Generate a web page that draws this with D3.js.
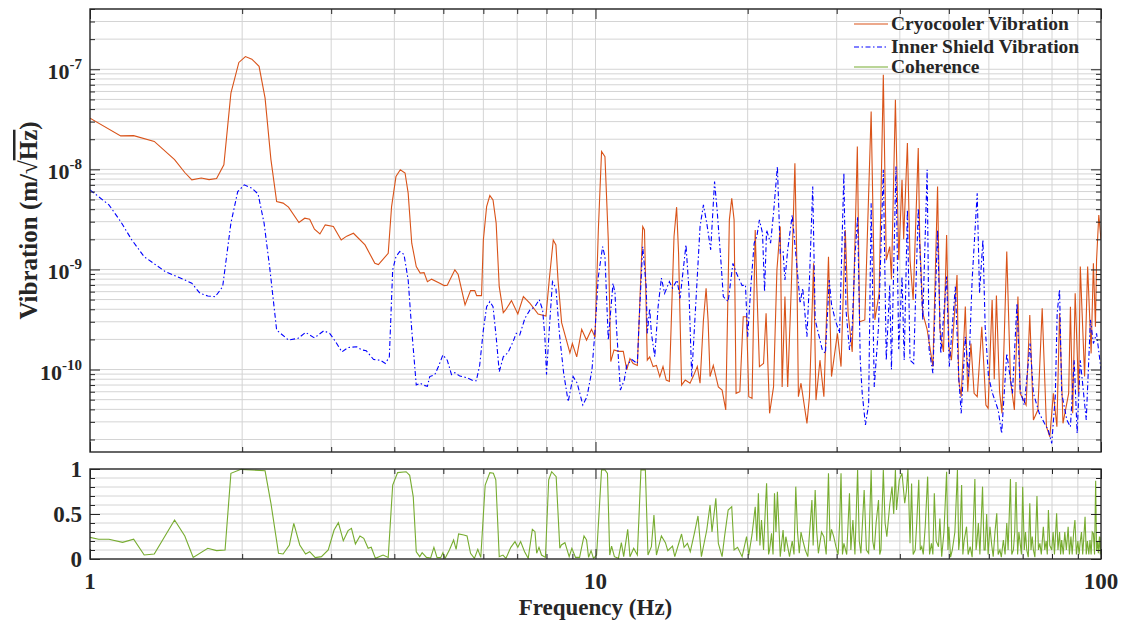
<!doctype html>
<html lang="en">
<head>
    <meta charset="UTF-8">
    <title>Vibration spectra</title>
    <style>
        body { margin: 0; background: #fff; }
        text { font-family: "Liberation Serif", "Times New Roman", serif; font-weight: bold; fill: #262626; }
    </style>
</head>
<body>
<script src="https://cdn.jsdelivr.net/npm/d3@7"></script>
<script>

    // values: [frequency Hz, amplitude m/sqrt(Hz)]
    const cryocooler = [
        [1.00, 3.25e-8], [1.15, 2.16e-8], [1.22, 2.17e-8], [1.34, 1.9e-8], [1.47, 1.25e-8],
        [1.54, 9.3e-9], [1.59, 7.85e-9], [1.66, 8.2e-9], [1.72, 7.9e-9], [1.78, 8.1e-9],
        [1.84, 1.11e-8], [1.90, 5.78e-8], [1.97, 1.17e-7], [2.03, 1.34e-7], [2.09, 1.26e-7],
        [2.16, 1.07e-7], [2.22, 5.15e-8], [2.28, 1.25e-8], [2.34, 4.77e-9], [2.41, 4.6e-9],
        [2.47, 4.19e-9], [2.59, 2.94e-9], [2.66, 3.25e-9], [2.72, 3.18e-9], [2.78, 2.52e-9],
        [2.85, 2.26e-9], [2.92, 2.79e-9], [3.03, 2.69e-9], [3.14, 1.97e-9], [3.22, 2.15e-9],
        [3.32, 2.3e-9], [3.50, 1.76e-9], [3.66, 1.15e-9], [3.72, 1.12e-9], [3.89, 1.45e-9],
        [3.95, 4.25e-9], [4.03, 8.48e-9], [4.11, 9.9e-9], [4.20, 9.2e-9], [4.26, 5.78e-9],
        [4.33, 1.83e-9], [4.42, 1.07e-9], [4.50, 9.2e-10], [4.58, 9.3e-10], [4.65, 7.55e-10],
        [4.74, 8.0e-10], [4.92, 7.28e-10], [5.02, 6.9e-10], [5.09, 6.95e-10], [5.27, 9.9e-10],
        [5.35, 8.9e-10], [5.52, 4.42e-10], [5.66, 6.14e-10], [5.77, 6.14e-10], [5.82, 5.47e-10],
        [5.95, 5.47e-10], [6.00, 1.97e-9], [6.09, 4.25e-9], [6.18, 5.47e-9], [6.27, 4.95e-9],
        [6.36, 2.9e-9], [6.45, 6.73e-10], [6.57, 3.7e-10], [6.64, 3.94e-10], [6.82, 4.88e-10],
        [7.02, 3.59e-10], [7.20, 5.35e-10], [7.42, 4.59e-10], [7.70, 3.59e-10], [7.98, 3.43e-10],
        [8.10, 7.85e-10], [8.25, 1.97e-9], [8.35, 1.76e-9], [8.43, 7.85e-10], [8.57, 2.94e-10],
        [8.90, 1.47e-10], [9.00, 1.82e-10], [9.18, 1.34e-10], [9.39, 2.52e-10], [9.60, 1.97e-10],
        [9.82, 2.52e-10], [9.98, 2.1e-10], [10.13, 2.48e-9], [10.28, 1.51e-8], [10.44, 1.34e-8],
        [10.60, 1.97e-9], [10.72, 1.2e-10], [10.88, 1.57e-10], [11.10, 1.52e-10], [11.35, 1.52e-10],
        [11.53, 9.9e-11], [11.70, 1.29e-10], [11.87, 1.15e-10], [12.10, 1.1e-10], [12.20, 3.13e-10],
        [12.40, 2.68e-9], [12.50, 2.48e-9], [12.66, 1.24e-10], [12.80, 1.34e-10], [13.00, 1.07e-10],
        [13.20, 1.1e-10], [13.40, 8.5e-11], [13.60, 1.07e-10], [13.80, 7.85e-11], [14.00, 7.6e-11],
        [14.30, 2.13e-9], [14.47, 4.19e-9], [14.60, 1.45e-9], [14.80, 7.0e-11], [15.05, 7.85e-11],
        [15.38, 7.3e-11], [15.60, 8.5e-11], [15.90, 1.07e-10], [16.10, 7.3e-11], [16.35, 3.13e-10],
        [16.55, 6.49e-10], [16.70, 3.13e-10], [16.85, 8.5e-11], [17.10, 1.1e-10], [17.50, 6.7e-11],
        [17.80, 6.24e-11], [18.10, 3.94e-11], [18.40, 3.13e-9], [18.60, 5.15e-9], [18.80, 3.13e-9],
        [18.97, 5.78e-11], [19.30, 6.0e-11], [19.60, 3.37e-10], [19.90, 3.37e-10], [20.10, 5.35e-11],
        [20.40, 5.15e-11], [20.70, 2.48e-9], [20.85, 6.73e-10], [21.10, 1.07e-10], [21.50, 1.15e-10],
        [21.75, 3.65e-10], [22.10, 3.65e-11], [22.50, 6.7e-11], [22.85, 9.9e-10], [23.20, 2.68e-9],
        [23.40, 6.7e-11], [23.70, 5.35e-10], [24.00, 6.7e-11], [24.40, 6.73e-10], [24.80, 1.15e-8],
        [25.00, 1.45e-9], [25.20, 5.35e-11], [25.50, 7.3e-11], [26.20, 2.9e-11], [26.50, 5.35e-11],
        [27.00, 1.15e-9], [27.30, 4.95e-11], [27.80, 1.24e-10], [28.30, 5.35e-11], [28.90, 1.34e-9],
        [29.30, 8.5e-11], [30.10, 2.3e-10], [30.60, 1.07e-10], [31.20, 2.48e-9], [31.60, 3.65e-10],
        [32.20, 1.5e-10], [32.96, 1.69e-8], [33.30, 3.0e-10], [34.10, 3.13e-10], [35.10, 3.79e-8],
        [35.70, 3.13e-10], [36.40, 5.78e-10], [37.10, 8.8e-8], [37.60, 1.24e-9], [38.20, 1.69e-9],
        [38.50, 8.0e-10], [39.20, 4.95e-8], [39.80, 1.24e-9], [40.40, 7.85e-9], [40.70, 2.0e-9],
        [41.40, 1.83e-8], [41.90, 1.24e-9], [42.50, 4.95e-10], [43.50, 1.63e-8], [43.80, 1.97e-9],
        [44.40, 3.65e-10], [45.30, 2.5e-10], [46.50, 1.07e-10], [47.50, 6.73e-9], [48.00, 2.5e-10],
        [48.80, 1.5e-10], [49.50, 2.21e-9], [50.00, 1.7e-10], [50.60, 1.24e-10], [51.90, 8.8e-10],
        [52.30, 7.85e-11], [52.90, 5.35e-11], [53.90, 4.25e-10], [54.50, 6.0e-11], [55.30, 1.82e-10],
        [56.10, 5.78e-11], [56.90, 5.35e-11], [58.10, 2.68e-10], [59.20, 4.42e-11], [59.80, 4.1e-11],
        [60.90, 4.95e-10], [61.50, 8.0e-11], [62.10, 5.5e-10], [63.00, 6.0e-11], [63.70, 3.65e-11],
        [65.10, 1.51e-9], [66.20, 7.85e-11], [67.40, 3.94e-11], [68.50, 5.35e-10], [69.20, 5.78e-11],
        [71.10, 4.42e-11], [72.30, 3.5e-10], [73.50, 3.13e-11], [75.00, 3.94e-11], [76.50, 4.1e-10],
        [78.00, 2.68e-11], [79.20, 2.13e-11], [80.50, 5.78e-11], [81.80, 2.68e-11], [82.80, 3.65e-10],
        [84.10, 2.9e-11], [86.30, 5.78e-11], [87.00, 4.25e-10], [87.90, 3.65e-11], [88.90, 5.78e-10],
        [90.30, 5.78e-11], [91.00, 1.07e-9], [92.80, 8.5e-11], [94.10, 1.07e-9], [95.60, 1.45e-10],
        [96.60, 1.15e-9], [97.50, 2.68e-10], [98.00, 1.24e-9], [99.00, 3.5e-9], [100.0, 1.97e-9]
    ]

    const innerShield = [
        [1.00, 6.24e-9], [1.09, 4.42e-9], [1.15, 3.01e-9], [1.21, 1.97e-9], [1.28, 1.34e-9],
        [1.41, 9.5e-10], [1.53, 7.98e-10], [1.59, 7.28e-10], [1.65, 5.78e-10], [1.71, 5.43e-10],
        [1.77, 5.35e-10], [1.83, 6.73e-10], [1.90, 2.9e-9], [1.96, 6.0e-9], [2.02, 7.0e-9],
        [2.09, 6.49e-9], [2.15, 5.69e-9], [2.21, 2.9e-9], [2.27, 9.9e-10], [2.34, 2.48e-10],
        [2.47, 1.97e-10], [2.58, 2.05e-10], [2.67, 2.35e-10], [2.78, 2.07e-10], [2.90, 2.44e-10],
        [2.98, 2.3e-10], [3.06, 1.9e-10], [3.15, 1.5e-10], [3.24, 1.66e-10], [3.37, 1.69e-10],
        [3.45, 1.57e-10], [3.52, 1.54e-10], [3.64, 1.26e-10], [3.75, 1.24e-10], [3.84, 1.15e-10],
        [3.91, 1.34e-10], [3.97, 9.9e-10], [4.03, 1.34e-9], [4.10, 1.51e-9], [4.18, 1.41e-9],
        [4.26, 7.85e-10], [4.33, 2.48e-10], [4.42, 7.0e-11], [4.50, 7.3e-11], [4.56, 7.0e-11],
        [4.65, 6.8e-11], [4.70, 8.5e-11], [4.81, 8.9e-11], [4.89, 1.07e-10], [4.99, 1.4e-10],
        [5.09, 1.24e-10], [5.19, 8.9e-11], [5.27, 9.3e-11], [5.39, 8.6e-11], [5.56, 8.3e-11],
        [5.73, 7.73e-11], [5.81, 7.73e-11], [5.90, 1.1e-10], [6.00, 2.48e-10], [6.09, 4.25e-10],
        [6.18, 4.77e-10], [6.27, 4.25e-10], [6.36, 2.13e-10], [6.45, 9.5e-11], [6.57, 1.34e-10],
        [6.71, 1.47e-10], [6.87, 1.9e-10], [6.97, 2.3e-10], [7.08, 2.21e-10], [7.25, 3.25e-10],
        [7.42, 3.94e-10], [7.59, 4.25e-10], [7.74, 4.99e-10], [7.86, 3.94e-10], [7.94, 2.13e-10],
        [8.00, 8.9e-11], [8.10, 2.48e-10], [8.22, 7.55e-10], [8.35, 6.49e-10], [8.49, 2.21e-10],
        [8.65, 9.2e-11], [8.83, 4.77e-11], [9.03, 8.5e-11], [9.20, 7.3e-11], [9.44, 4.42e-11],
        [9.62, 5.35e-11], [9.84, 9.9e-11], [9.98, 2.48e-10], [10.13, 8.5e-10], [10.33, 1.69e-9],
        [10.44, 1.34e-9], [10.60, 1.97e-10], [10.83, 7.28e-10], [10.93, 5.78e-10], [11.00, 2.68e-10],
        [11.20, 6.24e-11], [11.40, 7.85e-11], [11.53, 1.1e-10], [11.80, 1.26e-10], [12.10, 1.15e-10],
        [12.20, 3.13e-10], [12.40, 1.69e-9], [12.60, 6.73e-10], [12.66, 2.3e-10], [12.80, 4.1e-10],
        [12.90, 2.3e-10], [13.10, 1.34e-10], [13.30, 4.25e-10], [13.50, 8.2e-10], [13.70, 5.78e-10],
        [14.00, 7.55e-10], [14.20, 6.5e-10], [14.50, 7.85e-10], [14.70, 5.15e-10], [15.10, 1.76e-9],
        [15.30, 6.5e-10], [15.50, 8.5e-11], [15.90, 8.5e-10], [16.10, 2.68e-9], [16.35, 4.42e-9],
        [16.60, 2.9e-9], [16.90, 1.57e-9], [17.20, 7.55e-9], [17.40, 3.94e-9], [17.70, 1.24e-9],
        [17.90, 5.35e-10], [18.30, 4.77e-10], [18.70, 1.15e-9], [19.00, 9.2e-10], [19.50, 6.9e-10],
        [19.80, 7.0e-10], [20.00, 2.13e-10], [20.30, 7.0e-10], [20.60, 1.83e-9], [20.85, 2.13e-9],
        [21.10, 3.13e-9], [21.40, 2.3e-9], [21.60, 6.02e-10], [21.80, 2.48e-9], [22.20, 1.83e-9],
        [22.50, 3.65e-9], [22.90, 1.07e-8], [23.20, 1.45e-9], [23.50, 1.5e-9], [23.70, 7.85e-10],
        [24.00, 1.57e-9], [24.50, 3.5e-9], [25.00, 1.15e-9], [25.40, 4.59e-10], [25.70, 6.5e-10],
        [26.20, 2.13e-10], [26.50, 7.85e-10], [26.90, 6.73e-9], [27.20, 3.13e-10], [27.60, 2.3e-10],
        [28.10, 1.57e-10], [28.50, 1.45e-10], [29.00, 7.85e-10], [29.30, 4.5e-10], [29.80, 3.13e-10],
        [30.40, 2.3e-10], [31.00, 9.2e-9], [31.30, 3.94e-10], [31.80, 1.57e-10], [32.20, 2.68e-10],
        [32.60, 1.34e-9], [33.00, 3.37e-9], [33.40, 1.24e-10], [33.70, 5.78e-11], [34.20, 2.79e-11],
        [34.70, 4.5e-11], [35.10, 4.59e-9], [35.60, 6.7e-11], [36.30, 2.68e-10], [37.10, 9.9e-9],
        [37.60, 1.24e-10], [38.20, 6.9e-10], [38.50, 1.0e-10], [39.30, 1.07e-8], [39.80, 1.6e-10],
        [40.40, 8.5e-10], [40.80, 1.24e-10], [41.40, 3.94e-9], [41.90, 1.24e-10], [42.60, 1.15e-10],
        [43.50, 4.1e-9], [44.40, 3.13e-10], [45.30, 9.9e-9], [45.70, 1.6e-10], [46.50, 9.2e-11],
        [47.50, 2.48e-9], [48.20, 1.45e-10], [49.50, 8.5e-10], [50.10, 1.07e-10], [51.50, 6.73e-10],
        [52.30, 8.5e-11], [52.90, 3.65e-11], [53.90, 2.13e-10], [54.70, 8.5e-11], [55.60, 7.85e-10],
        [56.90, 5.78e-9], [57.50, 5.78e-10], [58.40, 1.97e-9], [59.00, 2.68e-10], [59.90, 8.5e-11],
        [61.00, 5.78e-11], [62.60, 3.94e-11], [63.60, 2.3e-11], [65.10, 1.45e-10], [66.80, 5.78e-11],
        [68.20, 4.59e-10], [69.20, 6.24e-11], [70.50, 4.42e-11], [72.40, 1.82e-10], [73.50, 5.78e-11],
        [75.50, 3.65e-11], [77.30, 2.9e-11], [78.60, 2.5e-11], [79.90, 1.83e-11], [81.20, 5.35e-11],
        [81.90, 3.65e-10], [82.80, 6.3e-10], [83.60, 5.78e-11], [85.60, 3.13e-11], [87.00, 2.68e-11],
        [88.50, 1.24e-10], [89.70, 2.3e-11], [91.00, 1.24e-10], [93.50, 3.13e-11], [95.30, 3.13e-10],
        [96.60, 1.82e-10], [98.00, 2.3e-10], [100.0, 1.0e-10]
    ]

    // [frequency Hz, coherence]
    const coherence = [
        [1.00, 0.24], [1.04, 0.22], [1.09, 0.22], [1.16, 0.185], [1.22, 0.22], [1.28, 0.044],
        [1.34, 0.056], [1.47, 0.433], [1.54, 0.256], [1.60, 0.018], [1.71, 0.119], [1.78, 0.093],
        [1.85, 0.1], [1.90, 0.952], [1.99, 0.996], [2.22, 0.98], [2.28, 0.619], [2.36, 0.063],
        [2.41, 0.056], [2.48, 0.156], [2.53, 0.396], [2.60, 0.156], [2.67, 0.056], [2.72, 0.081],
        [2.79, 0.015], [2.87, 0.026], [2.96, 0.1], [3.04, 0.322], [3.10, 0.404], [3.17, 0.204],
        [3.24, 0.315], [3.29, 0.34], [3.35, 0.167], [3.42, 0.256], [3.48, 0.23], [3.55, 0.119],
        [3.60, 0.13], [3.67, 0.007], [3.80, 0.044], [3.89, 0.018], [3.97, 0.822], [4.06, 0.96],
        [4.22, 0.97], [4.29, 0.93], [4.36, 0.69], [4.42, 0.081], [4.49, 0.026], [4.54, 0.07],
        [4.63, 0.018], [4.72, 0.011], [4.79, 0.13], [4.86, 0.015], [4.94, 0.015], [4.99, 0.07],
        [5.04, 0.007], [5.14, 0.1], [5.24, 0.211], [5.30, 0.107], [5.36, 0.278], [5.49, 0.267],
        [5.57, 0.256], [5.66, 0.063], [5.76, 0.007], [5.85, 0.107], [5.93, 0.018], [6.05, 0.822],
        [6.18, 0.96], [6.28, 0.952], [6.35, 0.88], [6.45, 0.026], [6.56, 0.044], [6.65, 0.007],
        [6.80, 0.13], [6.93, 0.193], [7.02, 0.13], [7.11, 0.193], [7.24, 0.081], [7.36, 0.007],
        [7.50, 0.33], [7.59, 0.304], [7.65, 0.063], [7.73, 0.13], [7.82, 0.044], [7.96, 0.018],
        [8.08, 0.88], [8.19, 0.97], [8.36, 0.915], [8.50, 0.119], [8.56, 0.156], [8.70, 0.181],
        [8.87, 0.026], [8.98, 0.119], [9.13, 0.018], [9.30, 0.018], [9.49, 0.256], [9.60, 0.211],
        [9.69, 0.018], [9.80, 0.093], [9.91, 0.007], [10.05, 0.044], [10.28, 0.99], [10.44, 0.99],
        [10.56, 0.952], [10.67, 0.044], [10.76, 0.144], [10.90, 0.026], [11.10, 0.007], [11.25, 0.181],
        [11.37, 0.026], [11.58, 0.33], [11.70, 0.026], [11.90, 0.119], [12.10, 0.044], [12.30, 0.99],
        [12.55, 0.99], [12.70, 0.044], [12.90, 0.137], [13.05, 0.489], [13.20, 0.044], [13.50, 0.256],
        [13.75, 0.181], [13.90, 0.093], [14.20, 0.144], [14.35, 0.026], [14.80, 0.278], [14.97, 0.13],
        [15.20, 0.174], [15.40, 0.081], [15.70, 0.293], [15.95, 0.478], [16.20, 0.026], [16.60, 0.322],
        [16.85, 0.6], [17.00, 0.3], [17.30, 0.674], [17.50, 0.174], [17.80, 0.026], [18.00, 0.248],
        [18.30, 0.544], [18.60, 0.581], [18.80, 0.1], [19.10, 0.13], [19.50, 0.026], [19.90, 0.248],
        [20.10, 0.044], [20.40, 0.27], [20.70, 0.581], [20.85, 0.2], [21.00, 0.73], [21.15, 0.15],
        [21.30, 0.433], [21.50, 0.1], [21.70, 0.619], [21.80, 0.841], [22.00, 0.05], [22.10, 0.1],
        [22.30, 0.285], [22.45, 0.05], [22.60, 0.73], [22.75, 0.3], [22.90, 0.748], [23.20, 0.026],
        [23.50, 0.322], [23.65, 0.08], [23.80, 0.248], [24.20, 0.026], [24.50, 0.2], [24.70, 0.05],
        [24.90, 0.804], [25.10, 0.3], [25.30, 0.063], [25.50, 0.3], [25.70, 0.211], [26.00, 0.1],
        [26.30, 0.026], [26.60, 0.4], [26.80, 0.656], [26.95, 0.15], [27.20, 0.767], [27.40, 0.3],
        [27.60, 0.063], [28.00, 0.3], [28.30, 0.248], [28.60, 0.05], [28.90, 0.952], [29.10, 0.2],
        [29.30, 0.33], [29.60, 0.248], [29.90, 0.137], [30.20, 0.05], [30.40, 0.393], [30.60, 0.952],
        [30.80, 0.05], [31.00, 0.174], [31.40, 0.05], [31.80, 0.73], [32.00, 0.1], [32.30, 0.433],
        [32.60, 0.05], [33.00, 0.99], [33.25, 0.2], [33.50, 0.063], [34.00, 0.767], [34.35, 0.1],
        [34.70, 0.063], [35.10, 0.99], [35.35, 0.2], [35.60, 0.1], [35.90, 0.4], [36.30, 0.656],
        [36.50, 0.05], [36.70, 0.1], [37.10, 0.99], [37.40, 0.4], [37.70, 0.248], [38.20, 0.6],
        [38.60, 0.804], [38.90, 0.5], [39.20, 0.99], [39.40, 0.544], [39.90, 0.88], [40.40, 0.952],
        [40.90, 0.619], [41.20, 0.75], [41.50, 1.0], [41.90, 0.174], [42.20, 0.84], [42.50, 0.05],
        [42.90, 0.1], [43.20, 0.4], [43.60, 0.88], [43.90, 0.1], [44.20, 0.137], [44.50, 0.05],
        [44.90, 0.359], [45.40, 0.915], [45.80, 0.05], [46.20, 0.174], [46.50, 0.05], [46.80, 0.73],
        [47.20, 0.2], [47.70, 0.137], [48.00, 0.45], [48.40, 0.026], [48.90, 0.3], [49.50, 0.97],
        [49.80, 0.1], [50.00, 0.359], [50.40, 0.02], [50.80, 0.1], [51.40, 0.3], [52.00, 0.99],
        [52.30, 0.1], [52.60, 0.248], [53.00, 0.822], [53.30, 0.05], [53.60, 0.2], [54.20, 0.359],
        [54.60, 0.05], [55.10, 0.137], [55.60, 0.02], [56.30, 0.89], [56.60, 0.1], [56.80, 0.174],
        [57.20, 0.4], [57.60, 0.05], [58.30, 0.804], [58.70, 0.1], [59.00, 0.1], [59.40, 0.5],
        [59.80, 0.05], [60.30, 0.359], [60.80, 0.15], [61.20, 0.026], [61.70, 0.3], [62.20, 0.507],
        [62.60, 0.05], [63.10, 0.1], [63.50, 0.02], [64.10, 0.211], [64.60, 0.05], [65.10, 0.4],
        [65.50, 0.1], [66.20, 0.89], [66.60, 0.05], [67.10, 0.1], [67.50, 0.3], [67.90, 0.855],
        [68.40, 0.05], [68.80, 0.3], [69.20, 0.174], [69.60, 0.05], [70.00, 0.804], [70.50, 0.1],
        [70.90, 0.3], [71.30, 0.1], [71.80, 0.02], [72.30, 0.62], [72.70, 0.1], [73.10, 0.25],
        [73.50, 0.1], [74.00, 0.02], [74.70, 0.7], [75.20, 0.1], [75.70, 0.174], [76.20, 0.05],
        [76.90, 0.359], [77.40, 0.1], [77.90, 0.2], [78.30, 0.05], [78.70, 0.544], [79.20, 0.15],
        [79.90, 0.1], [80.40, 0.3], [80.90, 0.05], [81.70, 0.507], [82.20, 0.1], [82.80, 0.3],
        [83.20, 0.05], [83.60, 0.211], [84.20, 0.05], [84.80, 0.3], [85.40, 0.1], [86.10, 0.359],
        [86.60, 0.05], [87.20, 0.25], [87.70, 0.05], [88.30, 0.3], [88.80, 0.433], [89.40, 0.05],
        [90.00, 0.2], [90.50, 0.05], [90.90, 0.174], [91.50, 0.3], [92.00, 0.05], [92.50, 0.25],
        [93.00, 0.47], [93.50, 0.05], [94.00, 0.2], [94.60, 0.05], [95.10, 0.211], [95.60, 0.05],
        [96.10, 0.3], [96.60, 0.285], [97.10, 0.05], [97.60, 0.87], [98.00, 0.1], [98.40, 0.2],
        [98.80, 0.063], [99.30, 0.25], [99.70, 0.05], [100.0, 0.248]
    ]

    const xLabels = [1, 10, 100]
    const yTopLabels = [-10, -9, -8, -7]      // exponents of the decade labels
    const yBotLabels = ['0', '0.5', '1']
    const legendNames = ['Cryocooler Vibration', 'Inner Shield Vibration', 'Coherence']

    const colors = {cryo: '#D95319', shield: '#0000FF', coh: '#77AC30'}
    const axisColor = '#262626'
    const gridColor = '#d4d4d4'
    const dashDot = '5,2.5,1.5,2.5'

    const W = 1125, H = 620
    const left = 90, right = 1101
    const top1 = 9, bottom1 = 452
    const top2 = 469, bottom2 = 559

    const svg = d3.select('body')
        .append('svg')
        .attr('width', W)
        .attr('height', H)

    const x = d3.scaleLog().domain([1, 100]).range([left, right])
    const yTop = d3.scaleLog().domain([1.5e-11, 4e-7]).range([bottom1, top1])
    const yBot = d3.scaleLinear().domain([0, 1]).range([bottom2, top2])

    // tick positions
    const xMinor = d3.range(2, 10).concat(d3.range(20, 100, 10))
    const yTopMajor = yTopLabels.map(e => Math.pow(10, e))
    const yTopMinor = []
    for (let e = -11; e <= -7; e++) {
        for (let m = 2; m <= 9; m++) {
            const v = m * Math.pow(10, e)
            if (v >= 1.5e-11 && v <= 4e-7) yTopMinor.push(v)
        }
    }
    const yBotMinor = d3.range(1, 10).filter(d => d !== 5).map(d => d / 10)
    const yBotMajor = yBotLabels.map(Number)

    // grid lines
    function grid(g, yScale, yVals, y0, y1) {
        g.selectAll('.gx').data(xMinor.concat([10]))
            .enter().append('line')
            .attr('x1', d => x(d)).attr('x2', d => x(d))
            .attr('y1', y0).attr('y2', y1)
            .attr('stroke', gridColor).attr('stroke-width', 1)
        g.selectAll('.gy').data(yVals)
            .enter().append('line')
            .attr('x1', left).attr('x2', right)
            .attr('y1', d => yScale(d)).attr('y2', d => yScale(d))
            .attr('stroke', gridColor).attr('stroke-width', 1)
    }

    const g1 = svg.append('g')
    const g2 = svg.append('g')
    grid(g1, yTop, yTopMajor.concat(yTopMinor), top1, bottom1)
    grid(g2, yBot, yBotMinor.concat([0.5]), top2, bottom2)

    // clip paths
    svg.append('clipPath').attr('id', 'clip1').append('rect')
        .attr('x', left).attr('y', top1).attr('width', right - left).attr('height', bottom1 - top1)
    svg.append('clipPath').attr('id', 'clip2').append('rect')
        .attr('x', left).attr('y', top2 - 1).attr('width', right - left).attr('height', bottom2 - top2 + 1)

    // data lines
    const lineTop = d3.line().x(d => x(d[0])).y(d => yTop(d[1]))
    const lineBot = d3.line().x(d => x(d[0])).y(d => yBot(d[1]))

    g1.append('path')
        .attr('clip-path', 'url(#clip1)')
        .attr('d', lineTop(cryocooler))
        .attr('fill', 'none')
        .attr('stroke', colors.cryo)
        .attr('stroke-width', 1.1)

    g1.append('path')
        .attr('clip-path', 'url(#clip1)')
        .attr('d', lineTop(innerShield))
        .attr('fill', 'none')
        .attr('stroke', colors.shield)
        .attr('stroke-width', 1.1)
        .attr('stroke-dasharray', dashDot)

    g2.append('path')
        .attr('clip-path', 'url(#clip2)')
        .attr('d', lineBot(coherence))
        .attr('fill', 'none')
        .attr('stroke', colors.coh)
        .attr('stroke-width', 1.1)

    // ticks pointing inward on all four sides
    function ticks(g, yScale, yMaj, yMin, y0, y1) {
        const parts = [
            [d3.axisBottom(x), `translate(0,${y1})`, xLabels, xMinor],
            [d3.axisTop(x), `translate(0,${y0})`, xLabels, xMinor],
            [d3.axisLeft(yScale), `translate(${left},0)`, yMaj, yMin],
            [d3.axisRight(yScale), `translate(${right},0)`, yMaj, yMin]
        ]
        parts.forEach(([ax, tr, maj, min]) => {
            g.append('g').attr('transform', tr)
                .call(ax.tickValues(maj).tickSize(-10).tickFormat(''))
                .call(s => s.select('.domain').remove())
                .selectAll('line').attr('stroke', axisColor)
            g.append('g').attr('transform', tr)
                .call(ax.tickValues(min).tickSize(-5).tickFormat(''))
                .call(s => s.select('.domain').remove())
                .selectAll('line').attr('stroke', axisColor)
        })
        g.append('rect')
            .attr('x', left).attr('y', y0)
            .attr('width', right - left).attr('height', y1 - y0)
            .attr('fill', 'none')
            .attr('stroke', axisColor)
            .attr('stroke-width', 1.4)
    }

    ticks(g1, yTop, yTopMajor, yTopMinor, top1, bottom1)
    ticks(g2, yBot, yBotMajor, yBotMinor, top2, bottom2)

    // tick labels
    const yLab = svg.selectAll('.ylab').data(yTopLabels)
        .enter().append('text')
        .attr('x', 82)
        .attr('y', d => yTop(Math.pow(10, d)) + 10)
        .attr('text-anchor', 'end')
        .style('font-size', '22px')
    yLab.append('tspan').text('10')
    yLab.append('tspan')
        .attr('dy', -10)
        .style('font-size', '15px')
        .text(d => d)

    svg.selectAll('.ylab2').data(yBotLabels)
        .enter().append('text')
        .attr('x', 82)
        .attr('y', d => yBot(+d) + 8)
        .attr('text-anchor', 'end')
        .style('font-size', '23px')
        .text(d => d)

    svg.selectAll('.xlab').data(xLabels)
        .enter().append('text')
        .attr('x', d => x(d))
        .attr('y', 589)
        .attr('text-anchor', 'middle')
        .style('font-size', '23px')
        .text(d => d)

    // axis titles
    svg.append('text')
        .attr('x', (left + right) / 2)
        .attr('y', 615)
        .attr('text-anchor', 'middle')
        .style('font-size', '23px')
        .text('Frequency (Hz)')

    const yTitle = svg.append('text')
        .attr('transform', `translate(37, ${(top1 + bottom1) / 2 - 10}) rotate(-90)`)
        .attr('text-anchor', 'middle')
        .style('font-size', '25px')
    yTitle.append('tspan').text('Vibration (m/√')
    yTitle.append('tspan').style('text-decoration', 'overline').text('Hz')
    yTitle.append('tspan').text(')')

    // legend
    const legendStyles = [
        {color: colors.cryo, dash: null},
        {color: colors.shield, dash: dashDot},
        {color: colors.coh, dash: null}
    ]
    const legendY = [24, 47, 67]

    const legend = svg.selectAll('.legend').data(legendNames)
        .enter().append('g')
        .attr('transform', (d, i) => `translate(854, ${legendY[i]})`)

    legend.append('line')
        .attr('x1', 0).attr('x2', 34)
        .attr('stroke', (d, i) => legendStyles[i].color)
        .attr('stroke-width', 1.1)
        .attr('stroke-dasharray', (d, i) => legendStyles[i].dash)

    legend.append('text')
        .attr('x', 37)
        .attr('y', 6)
        .style('font-size', '19.5px')
        .text(d => d)

</script>
</body>
</html>
